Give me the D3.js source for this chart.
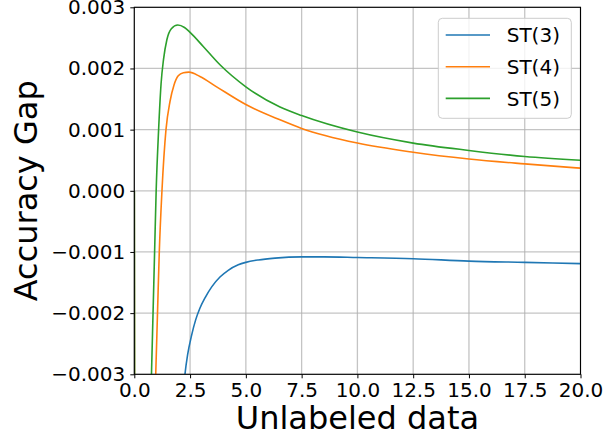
<!DOCTYPE html>
<html>
<head>
<meta charset="utf-8">
<script src="https://cdn.jsdelivr.net/npm/d3@7"></script>
<style>
  body { margin: 0; background: #fff; }
  text { font-family: "DejaVu Sans", sans-serif; fill: #000; }
</style>
</head>
<body>
<div class="chart"></div>
<script>
// values
const st3X = [0, 0.05, 1.5, 2.0, 2.27, 2.39, 2.57, 2.75, 2.94, 3.17, 3.47, 3.84, 4.21, 4.66, 5.0, 5.56, 6.31, 7.5, 8.5, 10, 12.5, 15, 17.5, 20];
const st3Y = [0, -0.03, -0.009, -0.0043, -0.003, -0.00268, -0.00236, -0.00211, -0.00192, -0.00175, -0.00157, -0.00141, -0.0013, -0.00121, -0.00117, -0.00113, -0.0011, -0.00108, -0.00108, -0.00109, -0.00111, -0.00115, -0.00117, -0.00119];

const st4X = [0, 0.05, 0.7, 0.96, 1.04, 1.12, 1.24, 1.42, 1.6, 1.78, 1.97, 2.2, 2.45, 2.94, 3.69, 5.0, 6.53, 7.5, 10, 12.5, 15, 17.5, 20];
const st4Y = [0, -0.012, -0.005, -0.003, -0.002, -0.001, 0.0, 0.001, 0.00146, 0.00173, 0.00188, 0.00193, 0.00194, 0.00187, 0.0017, 0.00141, 0.00116, 0.00102, 0.00078, 0.00063, 0.00052, 0.00044, 0.00037];

const st5X = [0, 0.05, 0.5, 0.77, 0.84, 0.91, 0.98, 1.09, 1.2, 1.31, 1.46, 1.66, 1.95, 2.25, 2.5, 3.09, 3.84, 5.0, 6.53, 7.5, 10, 12.5, 15, 17.5, 20];
const st5Y = [0, -0.012, -0.0065, -0.003, -0.002, -0.001, 0.0, 0.001, 0.00175, 0.00215, 0.00247, 0.00265, 0.00271, 0.00267, 0.00259, 0.00236, 0.00206, 0.0017, 0.00137, 0.00123, 0.00096, 0.00078, 0.00066, 0.00056, 0.0005];

const seriesNames = ["ST(3)", "ST(4)", "ST(5)"];
const colors = ["#1f77b4", "#ff7f0e", "#2ca02c"];

const xTicks = [0, 2.5, 5, 7.5, 10, 12.5, 15, 17.5, 20];
const yTicks = [-0.003, -0.002, -0.001, 0, 0.001, 0.002, 0.003];

const margin = {top: 7.3, right: 22.5, bottom: 63.7, left: 134.3};
const width = 603 - margin.left - margin.right,
      height = 438 - margin.top - margin.bottom;

const svg = d3.select(".chart").append("svg")
  .attr("width", 603)
  .attr("height", 438);

const g = svg.append("g")
  .attr("transform", "translate(" + margin.left + "," + margin.top + ")");

const xScale = d3.scaleLinear().domain([0, 20]).range([0, width]);
const yScale = d3.scaleLinear().domain([-0.003, 0.003]).range([height, 0]);

// grid
g.append("g").selectAll("line")
  .data(xTicks)
  .join("line")
  .attr("x1", d => xScale(d)).attr("x2", d => xScale(d))
  .attr("y1", 0).attr("y2", height)
  .attr("stroke", "#b0b0b0").attr("stroke-opacity", 0.75).attr("stroke-width", 1.3);

g.append("g").selectAll("line")
  .data(yTicks)
  .join("line")
  .attr("x1", 0).attr("x2", width)
  .attr("y1", d => yScale(d)).attr("y2", d => yScale(d))
  .attr("stroke", "#b0b0b0").attr("stroke-opacity", 0.75).attr("stroke-width", 1.3);

g.append("clipPath").attr("id", "clip")
  .append("rect").attr("width", width).attr("height", height);

const allSeries = [
  d3.zip(st3X, st3Y),
  d3.zip(st4X, st4Y),
  d3.zip(st5X, st5Y)
];

const line = d3.line()
  .x(d => xScale(d[0]))
  .y(d => yScale(d[1]))
  .curve(d3.curveMonotoneX);

g.append("g").attr("clip-path", "url(#clip)")
  .selectAll("path")
  .data(allSeries)
  .join("path")
  .attr("d", line)
  .attr("fill", "none")
  .attr("stroke", (d, i) => colors[i])
  .attr("stroke-width", 1.6);

// axes
const xAxis = d3.axisBottom(xScale)
  .tickValues(xTicks)
  .tickFormat(d3.format(".1f"))
  .tickSize(4)
  .tickPadding(5);

const yAxis = d3.axisLeft(yScale)
  .tickValues(yTicks)
  .tickFormat(d3.format(".3f"))
  .tickSize(4)
  .tickPadding(5);

g.append("g")
  .attr("transform", "translate(0," + height + ")")
  .call(xAxis)
  .call(a => a.select(".domain").remove())
  .selectAll("text").style("font-size", "20px").attr("font-family", "DejaVu Sans");

g.append("g")
  .call(yAxis)
  .call(a => a.select(".domain").remove())
  .selectAll("text").style("font-size", "20px").attr("font-family", "DejaVu Sans");

g.selectAll(".tick line").attr("stroke", "#000").attr("stroke-width", 1);

// spines
g.append("rect")
  .attr("width", width)
  .attr("height", height)
  .attr("fill", "none")
  .attr("stroke", "#000")
  .attr("stroke-width", 1.1);

// axis titles
svg.append("text")
  .attr("x", margin.left + width / 2)
  .attr("y", 429)
  .attr("text-anchor", "middle")
  .style("font-size", "32px")
  .text("Unlabeled data");

svg.append("text")
  .attr("transform", "translate(37," + (margin.top + height / 2) + ") rotate(-90)")
  .attr("text-anchor", "middle")
  .style("font-size", "32px")
  .text("Accuracy Gap");

// legend
const legend = svg.append("g").attr("transform", "translate(438.3,18.3)");
legend.append("rect")
  .attr("width", 133)
  .attr("height", 100)
  .attr("rx", 4)
  .attr("fill", "#fff")
  .attr("fill-opacity", 0.8)
  .attr("stroke", "#cccccc")
  .attr("stroke-width", 1);

const rows = legend.selectAll(".row")
  .data(seriesNames)
  .join("g")
  .attr("class", "row")
  .attr("transform", (d, i) => "translate(0," + (16.7 + i * 31.7) + ")");

rows.append("line")
  .attr("x1", 7.4).attr("x2", 51.7)
  .attr("stroke", (d, i) => colors[i])
  .attr("stroke-width", 1.6);

rows.append("text")
  .attr("x", 68.4)
  .attr("dy", "0.36em")
  .style("font-size", "20px")
  .text(d => d);
</script>
</body>
</html>
